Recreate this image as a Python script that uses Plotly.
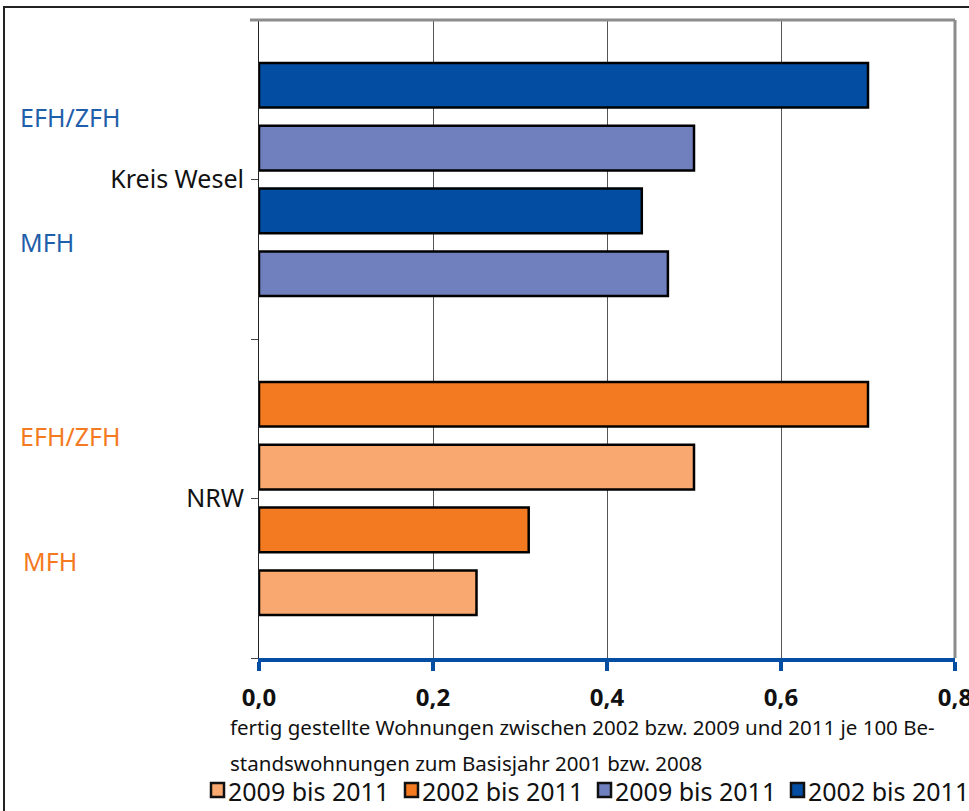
import plotly.graph_objects as go

# ---- data ----
regions = ["Kreis Wesel", "NRW"]
types = ["EFH/ZFH", "MFH"]
# values per region: [EFH/ZFH, MFH]
wesel_2002_2011 = [0.70, 0.44]
wesel_2009_2011 = [0.50, 0.47]
nrw_2002_2011 = [0.70, 0.31]
nrw_2009_2011 = [0.50, 0.25]
series_names = ["2009 bis 2011", "2002 bis 2011", "2009 bis 2011", "2002 bis 2011"]
x_ticks = [0.0, 0.2, 0.4, 0.6, 0.8]
axis_title_lines = [
    "fertig gestellte Wohnungen zwischen 2002 bzw. 2009 und 2011 je 100 Be-",
    "standswohnungen zum Basisjahr 2001 bzw. 2008",
]

# ---- styles ----
C_LORANGE = "#f9a96f"
C_ORANGE = "#f47a22"
C_PURPLE = "#7080be"
C_DBLUE = "#034ea2"
TXT_BLUE = "#1f5eaa"
TXT_ORANGE = "#f47a22"
FONT = "Noto Sans"

W, H = 969, 811
L, R, T, B = 259, 14, 20, 153
PW, PH = W - L - R, H - T - B


def px(xp):
    return (xp - L) / PW


def py(yp):
    return (H - B - yp) / PH


slot = 0.197
bw = 0.14
# offsets within a region band: EFH 2002, EFH 2009, MFH 2002, MFH 2009
off = {"EFH_2002": -1.5 * slot, "EFH_2009": -0.5 * slot,
       "MFH_2002": 0.5 * slot, "MFH_2009": 1.5 * slot}

traces = [
    (series_names[0], C_LORANGE, [1 + off["EFH_2009"], 1 + off["MFH_2009"]], nrw_2009_2011),
    (series_names[1], C_ORANGE, [1 + off["EFH_2002"], 1 + off["MFH_2002"]], nrw_2002_2011),
    (series_names[2], C_PURPLE, [0 + off["EFH_2009"], 0 + off["MFH_2009"]], wesel_2009_2011),
    (series_names[3], C_DBLUE, [0 + off["EFH_2002"], 0 + off["MFH_2002"]], wesel_2002_2011),
]

fig = go.Figure()
for name, col, ys, xs in traces:
    fig.add_trace(go.Bar(
        x=xs, y=ys, orientation="h", name=name, width=bw,
        marker=dict(color=col, line=dict(color="#000000", width=2.5)),
        showlegend=False, hoverinfo="skip",
    ))

fig.update_layout(
    width=W, height=H,
    margin=dict(l=L, r=R, t=T, b=B, pad=0, autoexpand=False),
    paper_bgcolor="white", plot_bgcolor="white",
    barmode="overlay",
    separators=", ",
    font=dict(family=FONT, color="#111111"),
    showlegend=False,
)

fig.update_xaxes(
    range=[0, 0.8], tickvals=x_ticks, tickformat=".1f",
    showgrid=True, gridcolor="#555555", gridwidth=1,
    zeroline=False, automargin=False,
    showline=True, linecolor=C_DBLUE, linewidth=4,
    ticks="outside", ticklen=9, tickwidth=4, tickcolor=C_DBLUE,
    tickfont=dict(family=FONT, size=24, color="#111111", weight="bold"),
    ticklabelstandoff=6,
    ticklabeloverflow="allow",
)

fig.update_yaxes(
    range=[1.5, -0.5],
    tickvals=[-0.5, 0, 0.5, 1, 1.5],
    ticktext=["", regions[0], "", regions[1], ""],
    showgrid=False, zeroline=False, automargin=False,
    showline=True, linecolor="#222222", linewidth=1,
    ticks="outside", ticklen=7, tickwidth=1, tickcolor="#444444",
    tickfont=dict(family=FONT, size=25, color="#111111"),
    ticklabelstandoff=2,
)

shapes = []
# plot area top/right gray border
shapes.append(dict(type="line", xref="paper", yref="paper", x0=px(250), x1=1, y0=1, y1=1,
                   line=dict(color="#8c8c8c", width=3)))
shapes.append(dict(type="line", xref="paper", yref="paper", x0=1, x1=1, y0=0, y1=1,
                   line=dict(color="#8c8c8c", width=3)))
# outer frame
shapes.append(dict(type="rect", xref="paper", yref="paper", x0=px(4), x1=px(990), y0=py(830), y1=py(7),
                   line=dict(color="#222222", width=2), fillcolor="rgba(0,0,0,0)", layer="below"))

annotations = []
# left type labels
for ry, col in [(0, TXT_BLUE), (1, TXT_ORANGE)]:
    for k, t in enumerate(types):
        yy = ry + (-slot if k == 0 else slot)
        annotations.append(dict(x=px(18 if ry == 0 or k == 0 else 21), y=yy, xref="paper", yref="y",
                                text=t, showarrow=False, xanchor="left", yanchor="middle",
                                font=dict(family=FONT, size=25, color=col)))
# axis title lines
for i, line in enumerate(axis_title_lines):
    annotations.append(dict(x=px(228), y=py(727 + 36 * i), xref="paper", yref="paper",
                            text=line, showarrow=False, xanchor="left", yanchor="middle",
                            font=dict(family=FONT, size=20.5, color="#111111")))
# custom legend
leg_x = [210, 404, 597, 790]
leg_cols = [C_LORANGE, C_ORANGE, C_PURPLE, C_DBLUE]
for xp, col, name in zip(leg_x, leg_cols, series_names):
    shapes.append(dict(type="rect", xref="paper", yref="paper", x0=px(xp + 1), x1=px(xp + 14),
                       y0=py(797), y1=py(783), line=dict(color="#111111", width=2.5), fillcolor=col))
    annotations.append(dict(x=px(xp + 16), y=py(791), xref="paper", yref="paper", text=name,
                            showarrow=False, xanchor="left", yanchor="middle",
                            font=dict(family=FONT, size=25, color="#111111")))

fig.update_layout(shapes=shapes, annotations=annotations)

fig.write_html("out.html",
               config={"displayModeBar": False},
               post_script="document.body.style.margin='0';document.body.style.overflow='hidden';")
